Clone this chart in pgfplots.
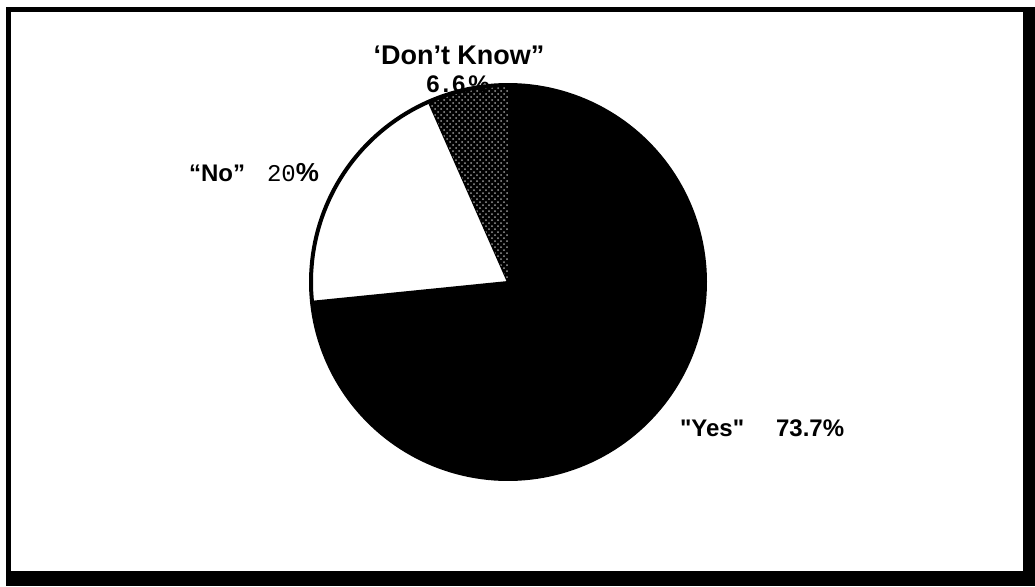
\documentclass[border=0pt]{standalone}
\usepackage{fontspec}
\setmainfont{Liberation Sans}
\newfontfamily\monofont{Liberation Mono}
\newfontfamily\spacedfont[LetterSpace=12]{Liberation Sans Bold}
\usepackage{pgfplots}
\pgfplotsset{compat=1.18}
\usetikzlibrary{patterns}
\begin{document}
\begin{tikzpicture}
% slice values (percent)
\def\valDK{6.6}
\def\valNo{20}
\def\valYes{73.7}
\pgfmathsetmacro{\aA}{90}
\pgfmathsetmacro{\aB}{90+\valDK*3.6}
\pgfmathsetmacro{\aC}{\aB+\valNo*3.6}
\pgfmathsetmacro{\aD}{450}
\begin{scope}[x=0.5pt,y=0.5pt]
\fill[white] (0,0) rectangle (1035,586);
\fill[black] (6,0) rectangle (1035,579);
\fill[white] (11,15) rectangle (1023,574);
\end{scope}
\begin{axis}[
  at={(0,0)}, anchor=south west,
  scale only axis, width=517.5pt, height=293pt,
  xmin=0, xmax=1035, ymin=0, ymax=586,
  hide axis, clip=false,
]
% Yes
\addplot[fill=black, draw=none, domain=\aC:\aD, samples=150]
  ({508+197*cos(x)},{304+197*sin(x)}) -- (axis cs:508,304) -- cycle;
% No
\addplot[fill=white, draw=black, line width=1pt, domain=\aB:\aC, samples=60]
  ({508+197*cos(x)},{304+197*sin(x)}) -- (axis cs:508,304) -- cycle;
% Don't know
\addplot[fill=black, draw=none, domain=\aA:\aB, samples=30]
  ({508+197*cos(x)},{304+197*sin(x)}) -- (axis cs:508,304) -- cycle;
\addplot[pattern=crosshatch dots, pattern color=white!60!black, draw=none, domain=\aA:\aB, samples=30]
  ({508+197*cos(x)},{304+197*sin(x)}) -- (axis cs:508,304) -- cycle;
% outline
\addplot[draw=black, line width=2pt, domain=0:360, samples=200]
  ({508+197*cos(x)},{304+197*sin(x)});
% labels
\node[font=\fontsize{13.5}{15}\selectfont\bfseries] at (axis cs:459,531) {‘Don’t Know”};
\node[font=\spacedfont\fontsize{12}{13}\selectfont] at (axis cs:458,502) {6.6\%};
\node[font=\fontsize{12}{14}\selectfont\bfseries, anchor=west] at (axis cs:182,413) {“No”};
\node[anchor=west] at (axis cs:260,413) {\fontsize{12}{14}\selectfont{\monofont 20}\fontsize{13}{14}\selectfont\bfseries\%};
\node[font=\fontsize{12}{14}\selectfont\bfseries, anchor=west] at (axis cs:673,158) {\textquotedbl Yes\textquotedbl};
\node[font=\fontsize{12}{14}\selectfont\bfseries, anchor=west] at (axis cs:769,158) {73.7\%};
\end{axis}
\end{tikzpicture}
\end{document}
